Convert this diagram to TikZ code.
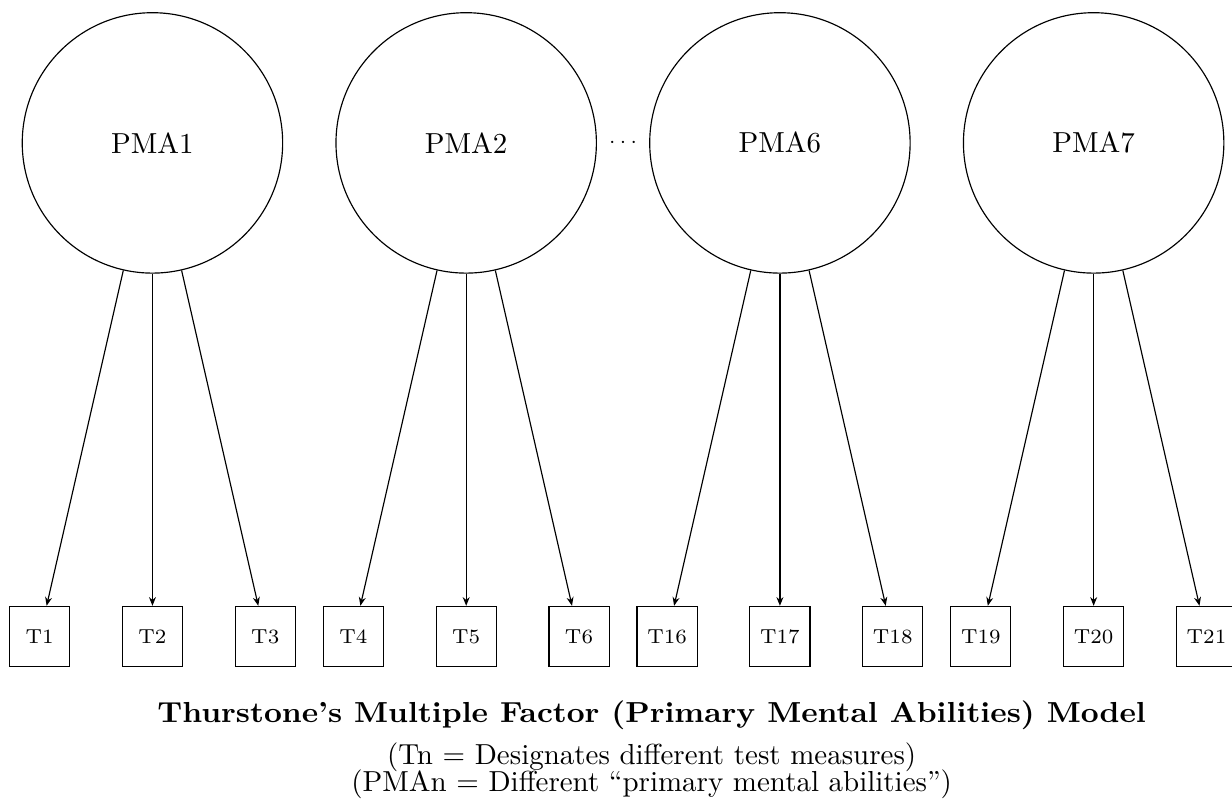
\documentclass[tikz,border=0pt]{standalone}
\usepackage{tikz}
\usepackage{graphicx}
\usetikzlibrary{arrows.meta,positioning}

\begin{document}
\begin{tikzpicture}[font=\normalsize]
\tikzstyle{ability}=[circle, draw=black, minimum size=3.16cm, inner sep=0pt]
\tikzstyle{test}=[rectangle, draw=black, minimum size=0.73cm, inner sep=0pt, font=\scriptsize]
\tikzstyle{arrow}=[-{Stealth[length=3pt,width=2.4pt]}]
\useasboundingbox (-1.85,1.734) rectangle (13.10,-8.065);
% primary mental abilities
\node (PMA1) [ability] at (0,0) {PMA1};
\node (PMA2) [ability, right=0.633cm of PMA1] {PMA2};
\node (PMA6) [ability, right=0.633cm of PMA2] {PMA6};
\node (PMA7) [ability, right=0.633cm of PMA6] {PMA7};
\path (PMA2) -- node (dots) [font=\scriptsize] {$\cdots$} (PMA6);
% test measures
\node (T2) [test, below=4.03cm of PMA1] {T2};
\node (T1) [test, left=0.625cm of T2] {T1};
\node (T3) [test, right=0.625cm of T2] {T3};
\node (T5) [test, below=4.03cm of PMA2] {T5};
\node (T4) [test, left=0.625cm of T5] {T4};
\node (T6) [test, right=0.625cm of T5] {T6};
\node (T17) [test, below=4.03cm of PMA6] {T17};
\node (T16) [test, left=0.625cm of T17] {T16};
\node (T18) [test, right=0.625cm of T17] {T18};
\node (T20) [test, below=4.03cm of PMA7] {T20};
\node (T19) [test, left=0.625cm of T20] {T19};
\node (T21) [test, right=0.625cm of T20] {T21};
% loadings
\draw[arrow] (PMA1) -- (T1);
\draw[arrow] (PMA1) -- (T2);
\draw[arrow] (PMA1) -- (T3);
\draw[arrow] (PMA2) -- (T4);
\draw[arrow] (PMA2) -- (T5);
\draw[arrow] (PMA2) -- (T6);
\draw[arrow] (PMA6) -- (T16);
\draw[arrow] (PMA6) -- (T17);
\draw[arrow] (PMA6) -- (T18);
\draw[arrow] (PMA7) -- (T19);
\draw[arrow] (PMA7) -- (T20);
\draw[arrow] (PMA7) -- (T21);
% caption
\node (title) [anchor=base] at (6.058,-7.034) {\scalebox{1.075}[1]{\bfseries Thurstone's Multiple Factor (Primary Mental Abilities) Model}};
\node (note1) [anchor=base] at (6.058,-7.544) {(Tn = Designates different test measures)};
\node (note2) [anchor=base] at (6.058,-7.871) {(PMAn = Different ``primary mental abilities'')};
\end{tikzpicture}
\end{document}
